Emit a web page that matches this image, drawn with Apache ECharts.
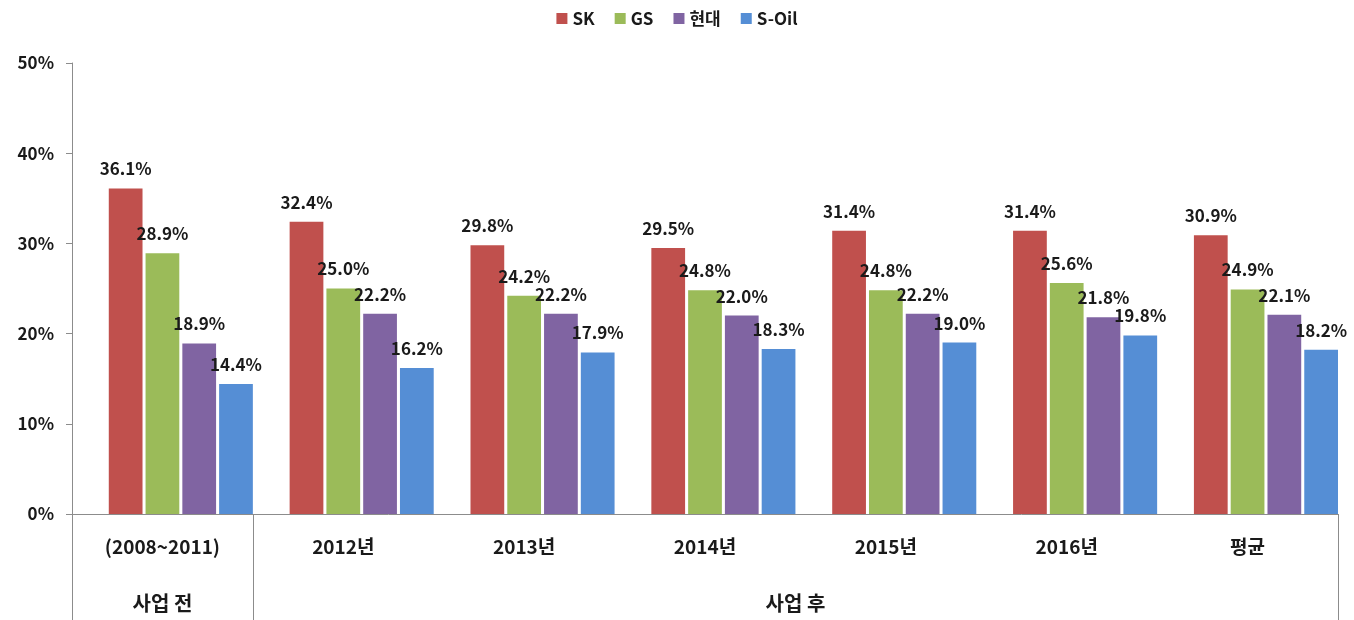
<!DOCTYPE html>
<html>
<head>
<meta charset="utf-8">
<script src="https://cdn.jsdelivr.net/npm/echarts@6/dist/echarts.min.js"></script>
<style>
  html, body { margin: 0; padding: 0; background: #fff; }
  #chart { width: 1354px; height: 620px; }
</style>
</head>
<body>
<div id="chart"></div>
<script>
// 항목 / 값
const categories = ['(2008~2011)', '2012년', '2013년', '2014년', '2015년', '2016년', '평균'];
const skValues = [36.1, 32.4, 29.8, 29.5, 31.4, 31.4, 30.9];
const gsValues = [28.9, 25.0, 24.2, 24.8, 24.8, 25.6, 24.9];
const hdValues = [18.9, 22.2, 22.2, 22.0, 22.2, 21.8, 22.1];
const soilValues = [14.4, 16.2, 17.9, 18.3, 19.0, 19.8, 18.2];
const seriesNames = ['SK', 'GS', '현대', 'S-Oil'];
const seriesColors = ['#C0504D', '#9BBB59', '#8064A2', '#558ED5'];
// 두번째 줄 (사업 전 / 사업 후) - 반 칸 단위 슬롯
const groupSlots = ['', '사업 전', '', '', '', '', '', '', '사업 후', '', '', '', '', '', ''];
const groupEdges = [0, 2, 14];

const FONT = '"Noto Sans CJK KR", "Noto Sans", sans-serif';
const AXIS_GRAY = '#8c8c8c';
const TEXT = '#1a1a1a';

const chart = echarts.init(document.getElementById('chart'), null, { renderer: 'canvas' });

const makeBar = (name, data, color) => ({
    name,
    type: 'bar',
    data,
    barGap: '9%',
    barCategoryGap: '0%',
    itemStyle: { color },
    label: {
        show: true,
        position: 'top',
        distance: 11,
        formatter: (p) => p.value.toFixed(1) + '%',
        fontFamily: FONT,
        fontWeight: 'bold',
        fontSize: 17,
        color: TEXT
    }
});

const option = {
    backgroundColor: '#fff',
    animation: false,
    legend: {
        data: seriesNames,
        top: 5,
        left: 'center',
        itemWidth: 11,
        itemHeight: 11,
        itemGap: 20,
        icon: 'rect',
        textStyle: { fontFamily: FONT, fontSize: 17, color: TEXT, fontWeight: 'bold' }
    },
    grid: { left: 72, right: 16, top: 63, bottom: 106 },
    xAxis: [
        {
            type: 'category',
            data: categories,
            axisLine: { show: true, lineStyle: { color: AXIS_GRAY, width: 1 } },
            axisTick: { show: false },
            axisLabel: {
                interval: 0,
                margin: 23,
                fontFamily: FONT,
                fontWeight: 'bold',
                fontSize: 19,
                color: TEXT
            }
        },
        {
            type: 'category',
            position: 'bottom',
            boundaryGap: false,
            data: groupSlots,
            axisLine: { show: false },
            axisTick: {
                show: true,
                length: 110,
                interval: (idx) => groupEdges.includes(idx),
                lineStyle: { color: AXIS_GRAY, width: 1 }
            },
            axisLabel: {
                interval: 0,
                margin: 79,
                fontFamily: FONT,
                fontWeight: 'bold',
                fontSize: 20,
                color: TEXT
            }
        }
    ],
    yAxis: {
        type: 'value',
        min: 0,
        max: 50,
        interval: 10,
        axisLine: { show: true, lineStyle: { color: AXIS_GRAY, width: 1 } },
        axisTick: { show: true, length: 6, lineStyle: { color: AXIS_GRAY } },
        splitLine: { show: false },
        axisLabel: {
            formatter: '{value}%',
            margin: 18,
            fontFamily: FONT,
            fontWeight: 'bold',
            fontSize: 17,
            color: TEXT
        }
    },
    series: [
        // 빈 슬롯: 엑셀처럼 막대 묶음을 오른쪽으로 붙이기 위함
        { name: '_pad', type: 'bar', data: categories.map(() => null), barGap: '9%', barCategoryGap: '0%' },
        makeBar(seriesNames[0], skValues, seriesColors[0]),
        makeBar(seriesNames[1], gsValues, seriesColors[1]),
        makeBar(seriesNames[2], hdValues, seriesColors[2]),
        makeBar(seriesNames[3], soilValues, seriesColors[3])
    ]
};

chart.setOption(option);
</script>
</body>
</html>
